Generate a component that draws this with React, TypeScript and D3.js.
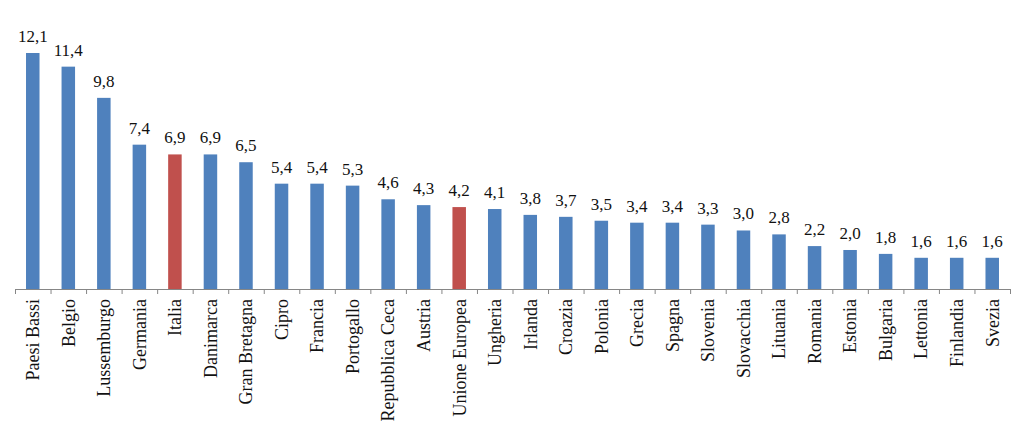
import * as d3 from "d3";
import { useRef, useEffect } from "react";

// categories and values
const categories = [
  "Paesi Bassi", "Belgio", "Lussemburgo", "Germania", "Italia", "Danimarca",
  "Gran Bretagna", "Cipro", "Francia", "Portogallo", "Repubblica Ceca", "Austria",
  "Unione Europea", "Ungheria", "Irlanda", "Croazia", "Polonia", "Grecia",
  "Spagna", "Slovenia", "Slovacchia", "Lituania", "Romania", "Estonia",
  "Bulgaria", "Lettonia", "Finlandia", "Svezia",
];
const values = [
  12.1, 11.4, 9.8, 7.4, 6.9, 6.9, 6.5, 5.4, 5.4, 5.3, 4.6, 4.3, 4.2, 4.1,
  3.8, 3.7, 3.5, 3.4, 3.4, 3.3, 3.0, 2.8, 2.2, 2.0, 1.8, 1.6, 1.6, 1.6,
];
const highlighted = ["Italia", "Unione Europea"];

export default function App(): JSX.Element {
  const svgRef = useRef<SVGSVGElement>(null);

  useEffect(() => {
    if (!svgRef.current) return;
    const svg = d3.select(svgRef.current);
    svg.selectAll("*").remove();

    const width = 1030;
    const height = 432;
    const left = 15;
    const right = 1010;
    const axisY = 289;
    const font = "'Liberation Serif', 'Times New Roman', serif";

    const x = d3.scaleBand<string>().domain(categories).range([left, right]).paddingInner(0.62).paddingOuter(0.31);
    const y = d3.scaleLinear().domain([0, 12.1]).range([axisY, 53]);

    svg.attr("width", width).attr("height", height);

    const data = categories.map((c, i) => ({ name: c, value: values[i] }));

    // bars
    svg
      .append("g")
      .selectAll("rect")
      .data(data)
      .join("rect")
      .attr("x", (d) => x(d.name)!)
      .attr("y", (d) => y(d.value))
      .attr("width", x.bandwidth())
      .attr("height", (d) => axisY - y(d.value))
      .attr("fill", (d) => (highlighted.includes(d.name) ? "#C0504D" : "#4F81BD"));

    // value labels
    svg
      .append("g")
      .selectAll("text")
      .data(data)
      .join("text")
      .attr("x", (d) => x(d.name)! + x.bandwidth() / 2)
      .attr("y", (d) => y(d.value) - 11)
      .attr("text-anchor", "middle")
      .style("font-family", font)
      .style("font-size", "17px")
      .attr("fill", "#111")
      .text((d) => d3.format(".1f")(d.value).replace(".", ","));

    // axis line and ticks
    const step = x.step();
    const axis = svg.append("g").attr("stroke", "#868686").attr("stroke-width", 1);
    axis.append("line").attr("x1", left).attr("x2", right).attr("y1", axisY + 0.5).attr("y2", axisY + 0.5);
    axis
      .selectAll("line.tick")
      .data(d3.range(categories.length + 1))
      .join("line")
      .attr("class", "tick")
      .attr("x1", (i) => left + i * step + 0.5)
      .attr("x2", (i) => left + i * step + 0.5)
      .attr("y1", axisY)
      .attr("y2", axisY + 5);

    // category labels (rotated)
    svg
      .append("g")
      .selectAll("text")
      .data(categories)
      .join("text")
      .attr("transform", (c) => `translate(${x(c)! + x.bandwidth() / 2},${axisY + 10}) rotate(-90)`)
      .attr("text-anchor", "end")
      .attr("dy", "0.35em")
      .style("font-family", font)
      .style("font-size", "18px")
      .attr("fill", "#111")
      .text((c) => c);
  }, []);

  return <svg ref={svgRef} style={{ position: "absolute", left: 0, top: 0, background: "#fff" }} />;
}
